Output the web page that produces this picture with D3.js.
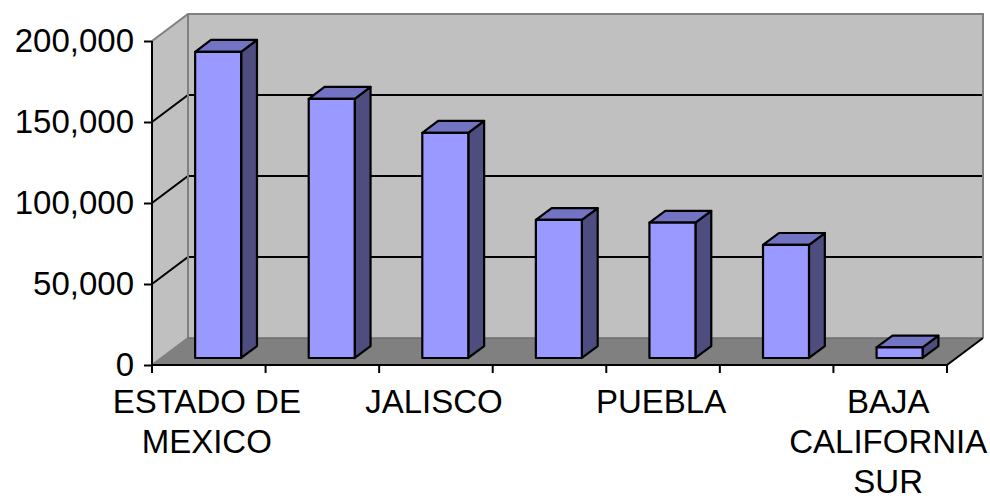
<!DOCTYPE html>
<html>
<head>
<meta charset="utf-8">
<script src="https://cdn.jsdelivr.net/npm/d3@7"></script>
<style>
  body { margin: 0; background: #fff; }
  svg { display: block; font-family: "Liberation Sans", Arial, sans-serif; }
</style>
</head>
<body>
<svg></svg>
<script>
'use strict';

// chart data
var states = ['ESTADO DE MEXICO', 'DISTRITO FEDERAL', 'JALISCO', 'VERACRUZ', 'PUEBLA', 'GUANAJUATO', 'BAJA CALIFORNIA SUR'];
var values = [189000, 160000, 139000, 85200, 83500, 69800, 6500];
var yTicks = [0, 50000, 100000, 150000, 200000];
// label lines (only every other category gets a label)
var labelLines = [['ESTADO DE', 'MEXICO'], [], ['JALISCO'], [], ['PUEBLA'], [], ['BAJA', 'CALIFORNIA', 'SUR']];

var canvasWidth = 990;
var canvasHeight = 498;
var svg = d3.select('svg')
    .attr('width', canvasWidth)
    .attr('height', canvasHeight);

// front plane of the plot
var x0 = 152, x1 = 947;
var yBottom = 365, yTop = 41;
// depth offset of the back wall
var depthX = 36, depthY = -27;

var xScale = d3.scaleBand()
    .domain(states)
    .range([x0, x1])
    .paddingInner(0)
    .paddingOuter(0);
var yScale = d3.scaleLinear()
    .domain([0, 200000])
    .range([yBottom, yTop]);

// project (front x, value, depth 0..1) to screen
function P(x, v, d) {
    return [x + d * depthX, yScale(v) + d * depthY];
}
function poly(pts) {
    return pts.map(function(p){ return p.join(','); }).join(' ');
}

var walls = svg.append('g');

// left wall
walls.append('polygon')
    .attr('points', poly([P(x0, 0, 0), P(x0, 200000, 0), P(x0, 200000, 1), P(x0, 0, 1)]))
    .attr('fill', '#c0c0c0');
// back wall
walls.append('polygon')
    .attr('points', poly([P(x0, 0, 1), P(x0, 200000, 1), P(x1, 200000, 1), P(x1, 0, 1)]))
    .attr('fill', '#c0c0c0');
// floor
walls.append('polygon')
    .attr('points', poly([P(x0, 0, 0), P(x1, 0, 0), P(x1, 0, 1), P(x0, 0, 1)]))
    .attr('fill', '#808080');

// gridlines on left + back wall
var grid = yTicks.filter(function(t){ return t > 0 && t < 200000; });
walls.selectAll('polyline.grid')
    .data(grid)
    .enter()
    .append('polyline')
    .attr('class', 'grid')
    .attr('points', function(t){ return poly([P(x0, t, 0), P(x0, t, 1), P(x1, t, 1)]); })
    .attr('fill', 'none')
    .attr('stroke', '#000')
    .attr('stroke-width', 2);

// wall borders (gray)
walls.append('polyline')
    .attr('points', poly([P(x0, 200000, 0), P(x0, 200000, 1), P(x1, 200000, 1), P(x1, 0, 1)]))
    .attr('fill', 'none')
    .attr('stroke', '#808080')
    .attr('stroke-width', 2);
walls.append('polyline')
    .attr('points', poly([P(x0, 0, 0), P(x0, 0, 1), P(x0, 200000, 1)]))
    .attr('fill', 'none')
    .attr('stroke', '#808080')
    .attr('stroke-width', 2);
walls.append('line')
    .attr('x1', P(x0, 0, 1)[0]).attr('y1', P(x0, 0, 1)[1])
    .attr('x2', P(x1, 0, 1)[0]).attr('y2', P(x1, 0, 1)[1])
    .attr('stroke', '#6e6e6e')
    .attr('stroke-width', 1.5);
// floor right edge
walls.append('line')
    .attr('x1', P(x1, 0, 0)[0]).attr('y1', P(x1, 0, 0)[1])
    .attr('x2', P(x1, 0, 1)[0]).attr('y2', P(x1, 0, 1)[1])
    .attr('stroke', '#000')
    .attr('stroke-width', 2);

// bars
var dFront = 0.26, dBack = 0.70;
var barW = xScale.bandwidth() * 0.405;
var bars = svg.append('g')
    .selectAll('g.bar')
    .data(states)
    .enter()
    .append('g')
    .attr('class', 'bar');

function barX(d) { return xScale(d) + (xScale.bandwidth() - barW) / 2; }

bars.append('polygon') // side
    .attr('points', function(d, i){
        var xr = barX(d) + barW;
        return poly([P(xr, 0, dFront), P(xr, values[i], dFront), P(xr, values[i], dBack), P(xr, 0, dBack)]);
    })
    .attr('fill', '#4d4d80');
bars.append('polygon') // top
    .attr('points', function(d, i){
        var xl = barX(d), xr = xl + barW;
        return poly([P(xl, values[i], dFront), P(xr, values[i], dFront), P(xr, values[i], dBack), P(xl, values[i], dBack)]);
    })
    .attr('fill', '#7373c4');
bars.append('polygon') // front
    .attr('points', function(d, i){
        var xl = barX(d), xr = xl + barW;
        return poly([P(xl, 0, dFront), P(xr, 0, dFront), P(xr, values[i], dFront), P(xl, values[i], dFront)]);
    })
    .attr('fill', '#9999ff');
bars.selectAll('polygon')
    .attr('stroke', '#000')
    .attr('stroke-width', 2.2)
    .attr('stroke-linejoin', 'round');

// y axis
var yAxis = svg.append('g')
    .attr('transform', 'translate(' + x0 + ',0)')
    .call(d3.axisLeft(yScale)
        .tickValues(yTicks)
        .tickSize(8)
        .tickPadding(10)
        .tickFormat(d3.format(',')));
yAxis.select('.domain').attr('stroke-width', 2).attr('d', 'M0,' + yBottom + 'V' + yTop);
yAxis.selectAll('.tick line').attr('stroke-width', 2);
yAxis.selectAll('.tick text')
    .attr('font-size', 33)
    .attr('font-family', '"Liberation Sans", Arial, sans-serif')
    .attr('fill', '#000');

// x axis
var xAxis = svg.append('g')
    .attr('transform', 'translate(0,' + yBottom + ')');
xAxis.append('line')
    .attr('x1', x0).attr('x2', x1)
    .attr('stroke', '#000').attr('stroke-width', 2);
var xTickPos = states.map(function(d){ return xScale(d); }).concat([x1]);
xAxis.selectAll('line.tick')
    .data(xTickPos)
    .enter()
    .append('line')
    .attr('class', 'tick')
    .attr('x1', function(d){ return d; })
    .attr('x2', function(d){ return d; })
    .attr('y1', 0).attr('y2', 8)
    .attr('stroke', '#000').attr('stroke-width', 2);

var labels = svg.append('g')
    .selectAll('text.cat')
    .data(states)
    .enter()
    .append('text')
    .attr('class', 'cat')
    .attr('x', function(d){ return xScale(d) + xScale.bandwidth() / 2 - 2; })
    .attr('y', 413)
    .attr('text-anchor', 'middle')
    .attr('font-size', 33)
    .attr('fill', '#000');
labels.selectAll('tspan')
    .data(function(d, i){ return labelLines[i]; })
    .enter()
    .append('tspan')
    .attr('x', function(){ return d3.select(this.parentNode).attr('x'); })
    .attr('dy', function(d, i){ return i === 0 ? 0 : 40; })
    .text(function(d){ return d; });
</script>
</body>
</html>
